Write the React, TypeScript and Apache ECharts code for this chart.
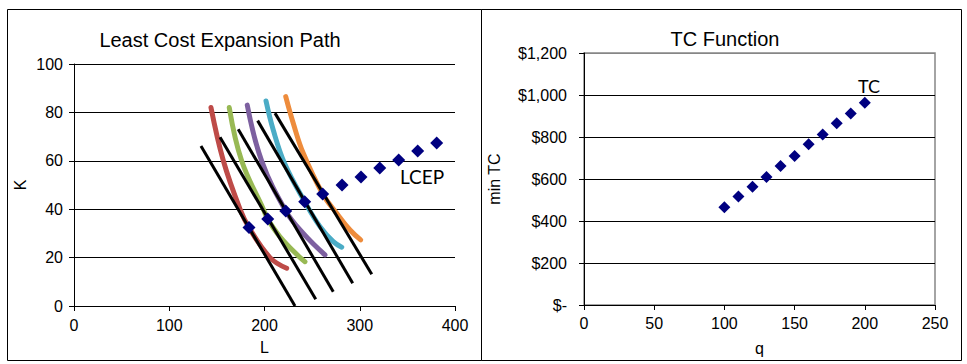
import { useEffect, useRef } from "react";
import * as echarts from "echarts";

// ---- Left chart: Least Cost Expansion Path ----
const isoquantRed = [[143.8, 82], [156.8, 60], [174.3, 40], [183.7, 32.4], [205.8, 20], [223.3, 15.6]];
const isoquantGreen = [[163, 82], [176, 60], [198.8, 40], [203.4, 35.9], [216.3, 28.6], [237.3, 20], [242.5, 18.3]];
const isoquantPurple = [[181.9, 83], [197, 60], [222.3, 39.3], [240.7, 30], [263.5, 21.1]];
const isoquantTeal = [[201.6, 84.7], [209.2, 72.7], [221, 59], [242.2, 43.1], [258.3, 32.8], [272.2, 26.6], [281.1, 24.3]];
const isoquantOrange = [[222.3, 86.5], [230.2, 75.5], [240.7, 63.1], [261.1, 46.3], [275.8, 38.3], [289.8, 31.4], [301, 27.3]];

const isocost1 = [[133.3, 66.1], [232, 0]];
const isocost2 = [[153.3, 69.7], [253.8, 2.8]];
const isocost3 = [[172.4, 73], [272.2, 5.9]];
const isocost4 = [[192.8, 76.6], [292.6, 9.4]];
const isocost5 = [[211, 79.7], [312.6, 13.1]];

const lcepL = [183.7, 203.4, 222.3, 242.2, 261.1, 281.4, 301.3, 321, 340.9, 360.8, 380.8];
const lcepK = [32.4, 35.9, 39.3, 43.1, 46.3, 50, 53.3, 57, 60.3, 64, 67.4];

// ---- Right chart: TC Function ----
const q = [100, 110, 120, 130, 140, 150, 160, 170, 180, 190, 200];
const minTC = [465, 517, 563, 610, 662, 709, 765, 812, 865, 912, 963];

const isoquantColors = ["#BE4B48", "#98B954", "#7D60A0", "#4BACC6", "#EE8C3C"];
const FONT = "Arial";

export default function App() {
  const ref = useRef<HTMLDivElement>(null);

  useEffect(() => {
    document.body.style.margin = "0";
    const chart = echarts.init(ref.current!, null, { renderer: "svg" });

    const nameStyle = () => ({ color: "#000", fontSize: 16, fontFamily: FONT, fontWeight: "normal", fontStyle: "normal" });
    const labelStyle = () => ({ color: "#000", fontSize: 16, fontFamily: FONT });
    const axisLine = () => ({ show: true, lineStyle: { color: "#000", width: 1 } });
    const axisTick = () => ({ show: true, length: 5, lineStyle: { color: "#000" } });

    const isoquants = [isoquantRed, isoquantGreen, isoquantPurple, isoquantTeal, isoquantOrange].map((d, i) => ({
      type: "line",
      xAxisIndex: 0,
      yAxisIndex: 0,
      data: d,
      smooth: 0.4,
      symbol: "none",
      lineStyle: { color: isoquantColors[i], width: 5, cap: "round" },
      z: 2,
    }));

    const isocosts = [isocost1, isocost2, isocost3, isocost4, isocost5].map((d) => ({
      type: "line",
      xAxisIndex: 0,
      yAxisIndex: 0,
      data: d,
      symbol: "none",
      lineStyle: { color: "#000", width: 3 },
      z: 3,
    }));

    const lcep = {
      type: "scatter",
      xAxisIndex: 0,
      yAxisIndex: 0,
      data: lcepL.map((l, i) => [l, lcepK[i]]),
      symbol: "diamond",
      symbolSize: 13,
      itemStyle: { color: "#000080", opacity: 1 },
      z: 5,
      markPoint: {
        symbol: "circle",
        symbolSize: 1,
        itemStyle: { color: "rgba(0,0,0,0)" },
        label: { show: true, position: "inside", formatter: "LCEP", color: "#000", fontSize: 19, fontFamily: "Lato" },
        data: [{ coord: [365.4, 53.7] }],
      },
    };

    const tc = {
      type: "scatter",
      xAxisIndex: 1,
      yAxisIndex: 1,
      data: q.map((v, i) => [v, minTC[i]]),
      symbol: "diamond",
      symbolSize: 12,
      itemStyle: { color: "#000080", opacity: 1 },
      z: 5,
      markPoint: {
        symbol: "circle",
        symbolSize: 1,
        itemStyle: { color: "rgba(0,0,0,0)" },
        label: { show: true, position: "inside", formatter: "TC", color: "#000", fontSize: 18, fontFamily: "Lato" },
        data: [{ coord: [203, 1044] }],
      },
    };

    chart.setOption({
      animation: false,
      backgroundColor: "#fff",
      textStyle: { fontFamily: FONT, fontSize: 16, color: "#000" },
      title: [
        { text: "Least Cost Expansion Path", left: 215, top: 25, textAlign: "center", textStyle: { color: "#000", fontSize: 20, fontWeight: "normal", fontFamily: FONT } },
        { text: "TC Function", left: 720, top: 24, textAlign: "center", textStyle: { color: "#000", fontSize: 20, fontWeight: "normal", fontFamily: FONT } },
      ],
      graphic: [
        { type: "rect", shape: { x: 7.5, y: 9.5, width: 474, height: 351 }, style: { fill: "none", stroke: "#000", lineWidth: 1 }, silent: true },
        { type: "rect", shape: { x: 481.5, y: 9.5, width: 480, height: 351 }, style: { fill: "none", stroke: "#000", lineWidth: 1 }, silent: true },
      ],
      grid: [
        { left: 74, top: 64, width: 381, height: 242, show: false },
        { left: 584, top: 53, width: 351, height: 252, show: true, borderColor: "#868686", borderWidth: 1.5, backgroundColor: "transparent" },
      ],
      xAxis: [
        {
          gridIndex: 0,
          type: "value",
          min: 0,
          max: 400,
          interval: 100,
          name: "L",
          nameLocation: "middle",
          nameGap: 33,
          nameTextStyle: nameStyle(),
          axisLine: axisLine(),
          axisTick: axisTick(),
          splitLine: { show: false },
          axisLabel: { ...labelStyle(), margin: 11 },
        },
        {
          gridIndex: 1,
          type: "value",
          min: 0,
          max: 250,
          interval: 50,
          name: "q",
          nameLocation: "middle",
          nameGap: 35,
          nameTextStyle: nameStyle(),
          axisLine: axisLine(),
          axisTick: axisTick(),
          splitLine: { show: false },
          axisLabel: { ...labelStyle(), margin: 10 },
        },
      ],
      yAxis: [
        {
          gridIndex: 0,
          type: "value",
          min: 0,
          max: 100,
          interval: 20,
          name: "K",
          nameLocation: "middle",
          nameGap: 46,
          nameTextStyle: nameStyle(),
          axisLine: axisLine(),
          axisTick: axisTick(),
          splitLine: { show: true, lineStyle: { color: "#000", width: 1 } },
          axisLabel: { ...labelStyle(), margin: 11 },
        },
        {
          gridIndex: 1,
          type: "value",
          min: 0,
          max: 1200,
          interval: 200,
          name: "min TC",
          nameLocation: "middle",
          nameGap: 82,
          nameTextStyle: nameStyle(),
          axisLine: axisLine(),
          axisTick: axisTick(),
          splitLine: { show: true, lineStyle: { color: ["#000", "#000", "#000", "#000", "#000", "#000", "#868686"], width: 1 } },
          axisLabel: {
            ...labelStyle(),
            margin: 17,
            formatter: (v: number) => (v === 0 ? "$-" : "$" + v.toLocaleString("en-US")),
          },
        },
      ],
      series: [...isoquants, ...isocosts, lcep, tc],
    });

    return () => chart.dispose();
  }, []);

  return <div ref={ref} style={{ width: 967, height: 364 }} />;
}
